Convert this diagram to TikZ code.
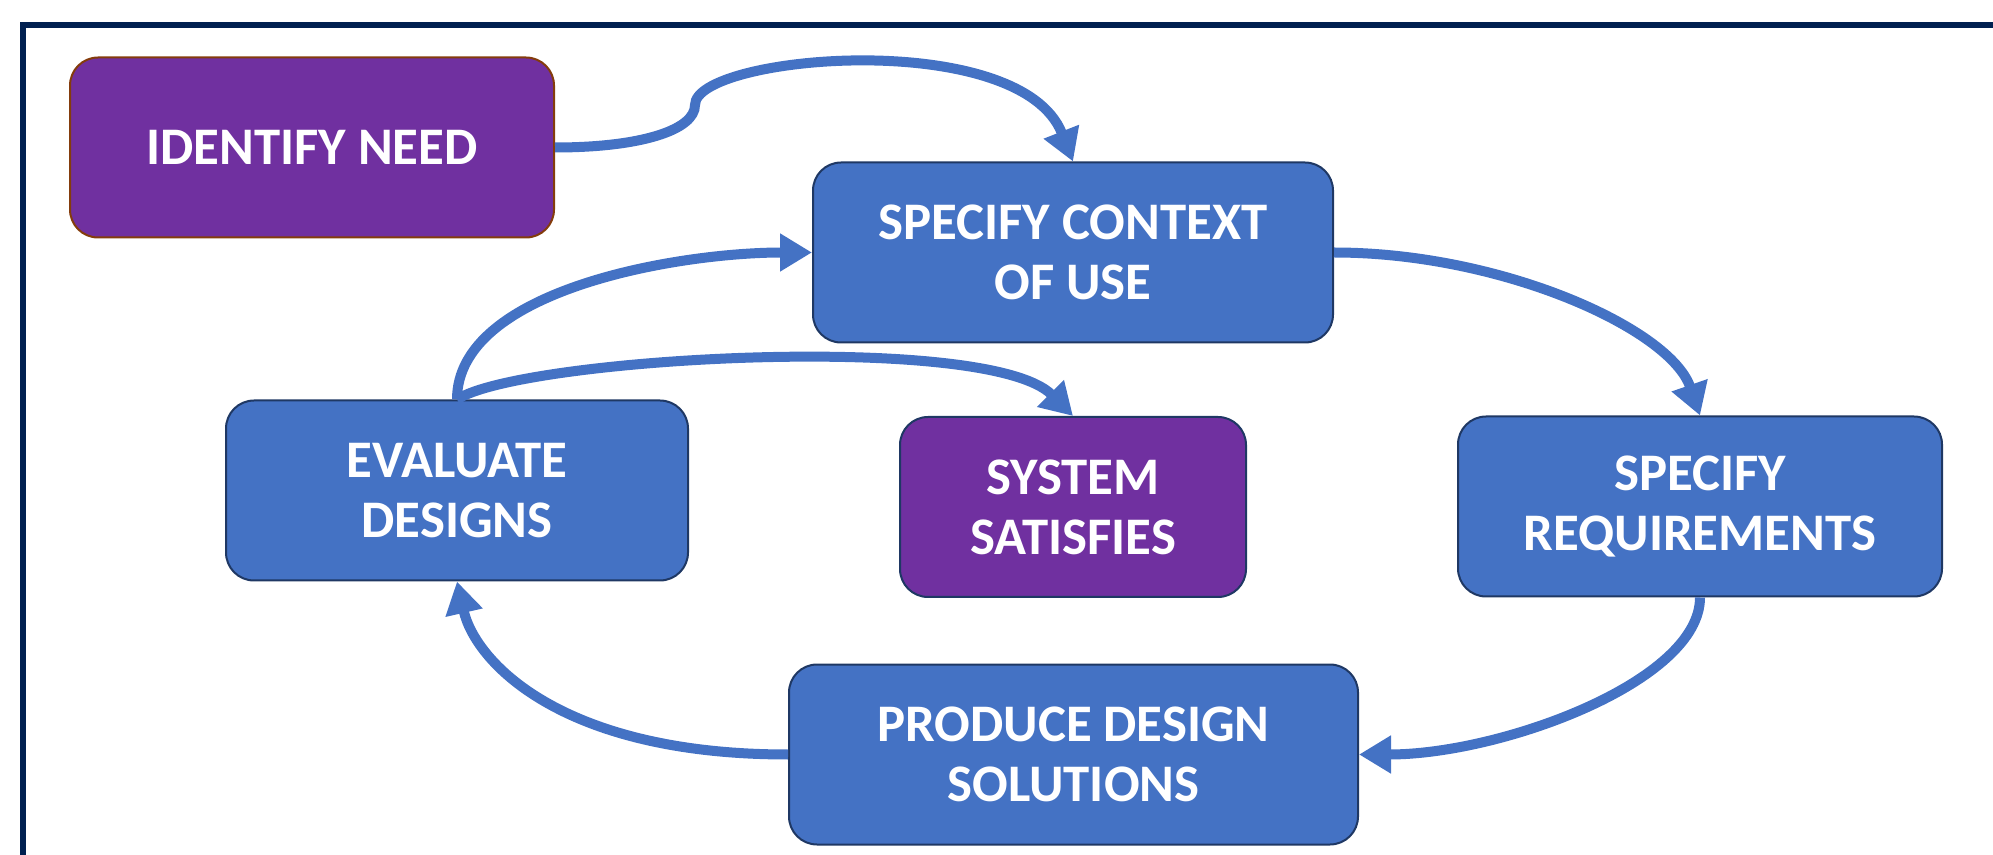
\documentclass[tikz,border=0pt]{standalone}
\usepackage{fontspec}
\setmainfont{Carlito}
\usetikzlibrary{arrows.meta}

\definecolor{boxblue}{HTML}{4472C4}
\definecolor{boxedge}{HTML}{1F3864}
\definecolor{goalpurple}{HTML}{7030A0}
\definecolor{neededge}{HTML}{843C0C}
\definecolor{framenavy}{HTML}{002050}

\begin{document}
\begin{tikzpicture}[x=0.5pt, y=-0.5pt,
    box/.style={draw=boxedge, line width=1pt, fill=boxblue, rounded corners=14pt,
      text=white, align=center, font=\fontsize{26.4}{30}\selectfont\bfseries,
      minimum height=90pt},
    goalbox/.style={box, fill=goalpurple},
    flow/.style={draw=boxblue, line width=5pt, -{Triangle[length=16pt, width=18pt]}}]
    \useasboundingbox (0,0) rectangle (1993,855);

    % frame, open to the right and below
    \draw[framenavy, line width=3pt] (23,855) -- (23,25) -- (1993,25);

    % steps of the cycle
    \node[goalbox, draw=neededge, minimum width=242pt] (need) at (312,147.5) {IDENTIFY NEED};
    \node[box, minimum width=260pt] (context) at (1073,252.5) {SPECIFY CONTEXT\\OF USE};
    \node[box, minimum width=242pt] (requirements) at (1700,506.5) {SPECIFY\\REQUIREMENTS};
    \node[box, minimum width=284.5pt] (produce) at (1073.5,754.5) {PRODUCE DESIGN\\SOLUTIONS};
    \node[box, minimum width=231pt] (evaluate) at (457,490.5) {EVALUATE\\DESIGNS};
    \node[goalbox, minimum width=173pt] (satisfies) at (1073,507) {SYSTEM\\SATISFIES};

    % entry into the loop
    \coordinate (kink) at (695,105);
    \draw[flow] (need.east) .. controls +(86,0) and +(0,25) .. (kink)
        .. controls +(0,-50) and +(-53,-135) .. (context.north);

    % the loop
    \draw[flow] (context.east) .. controls +(167,0) and +(-30,-87) .. (requirements.north);
    \draw[flow] (requirements.south) .. controls +(0,84) and +(142,0) .. (produce.east);
    \draw[flow] (produce.west) .. controls +(-229,0) and +(18,79) .. (evaluate.south);
    \draw[flow] (evaluate.north) .. controls +(0,-110) and +(-133,0) .. (context.west);

    % way out
    \draw[flow] (evaluate.north) .. controls +(63,-42) and +(-85,-85) .. (satisfies.north);
\end{tikzpicture}
\end{document}
